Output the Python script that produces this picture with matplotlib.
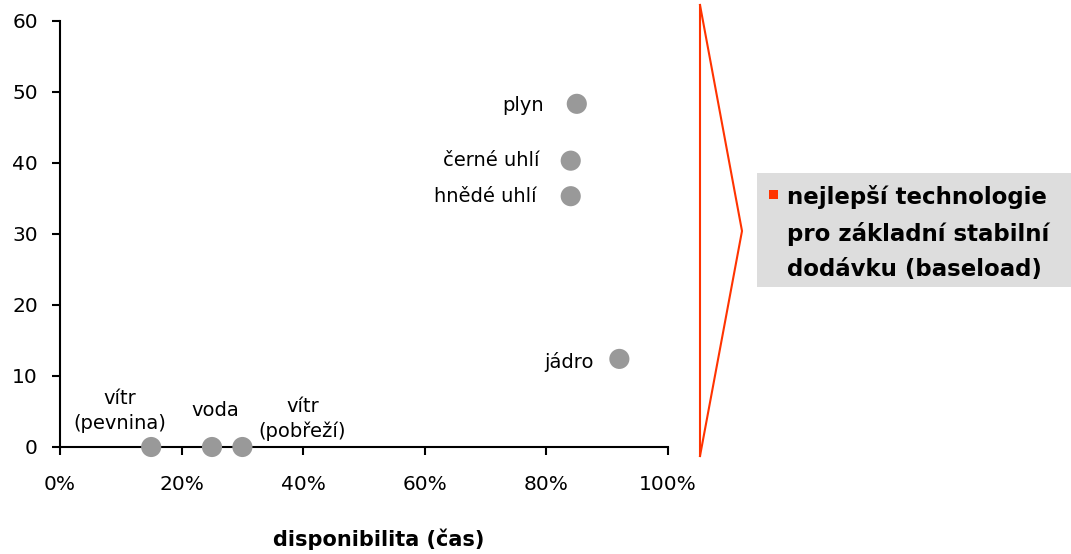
import matplotlib
matplotlib.use('Agg')
import matplotlib.pyplot as plt
from matplotlib.patches import Rectangle
from matplotlib.lines import Line2D

# ---- data ----
technologies = ["plyn", "černé uhlí", "hnědé uhlí", "jádro",
                "vítr\n(pevnina)", "voda", "vítr\n(pobřeží)"]
availability = [85, 84, 84, 92, 15, 25, 30]          # %
values = [48.3, 40.3, 35.3, 12.4, 0, 0, 0]
x_ticks = [0, 20, 40, 60, 80, 100]
x_tick_labels = ["0%", "20%", "40%", "60%", "80%", "100%"]
y_ticks = [0, 10, 20, 30, 40, 50, 60]
x_label = "disponibilita (čas)"
legend_label = "nejlepší technologie\npro základní stabilní\ndodávku (baseload)"

# label placement (offsets in pixels, alignment)
label_offsets = [(-33, -2), (-31, 0), (-34, 0), (-26, -3), (-31, 36), (3, 37), (60, 28)]
label_ha = ["right", "right", "right", "right", "center", "center", "center"]

W, H = 1071, 554
plt.rcParams['font.family'] = ['DejaVu Sans']
fig = plt.figure(figsize=(W / 100, H / 100), dpi=100)

def fx(x):
    return x / W

def fy(y):
    return 1 - y / H

x0, x1 = 60, 668
y0, y1 = 447, 20.7
ax = fig.add_axes([fx(x0), fy(y0), (x1 - x0) / W, (y0 - y1) / H])
ax.set_xlim(0, 100)
ax.set_ylim(0, 60)
for s in ["top", "right"]:
    ax.spines[s].set_visible(False)
for s in ["left", "bottom"]:
    ax.spines[s].set_linewidth(1.5)
    ax.spines[s].set_color("black")
ax.set_xticks(x_ticks)
ax.set_xticklabels(x_tick_labels)
ax.set_yticks(y_ticks)
ax.tick_params(axis='both', direction='out', length=6, width=1.5, labelsize=14.5,
               colors='black')
ax.tick_params(axis='x', pad=14)
ax.tick_params(axis='y', pad=10)
ax.patch.set_visible(False)

ax.scatter(availability, values, s=210, color="#999999", edgecolors="none",
           zorder=5, clip_on=False)

for name, xv, yv, off, ha in zip(technologies, availability, values, label_offsets, label_ha):
    ax.annotate(name, (xv, yv), xytext=off, textcoords='offset pixels',
                ha=ha, va='center', fontsize=14, linespacing=1.4, color='black')

fig.text(fx(379), fy(539), x_label, ha='center', va='center',
         fontsize=15, fontweight='bold')

# red bracket
red = "#FF3300"
fig.add_artist(Line2D([fx(700), fx(700)], [fy(5), fy(456)], color=red, lw=1.5,
                      transform=fig.transFigure))
fig.add_artist(Line2D([fx(700), fx(742), fx(700)], [fy(5), fy(231), fy(456)],
                      color=red, lw=1.5, transform=fig.transFigure))

# legend box
fig.add_artist(Rectangle((fx(757), fy(287)), (1071 - 757) / W, (287 - 173) / H,
                         facecolor="#DDDDDD", edgecolor="none",
                         transform=fig.transFigure))
fig.add_artist(Rectangle((fx(769), fy(199)), 9 / W, 9 / H,
                         facecolor=red, edgecolor="none",
                         transform=fig.transFigure))
fig.text(fx(787), fy(233), legend_label, ha='left', va='center',
         fontsize=16.5, fontweight='bold', linespacing=1.65)

fig.savefig("out.png", dpi=100)
